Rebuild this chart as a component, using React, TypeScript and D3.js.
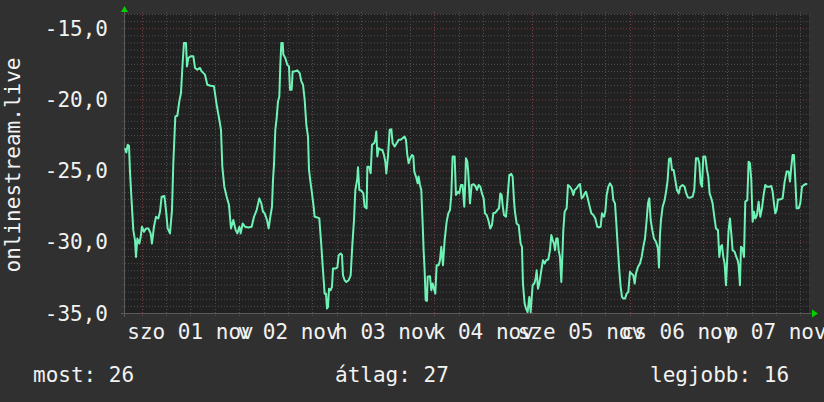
import * as d3 from 'd3';
import { useEffect, useRef } from 'react';

// hours since 2014-11-01 00:00 UTC
const hours = [
  -4.11, -3.78, -3.45, -3.12, -2.88, -2.47, -2.06, -1.65, -1.4, -1.07, -0.58, -0.25, 0.07, 0.57, 1.06, 1.63, 2.21, 2.53,
  3.02, 3.52, 4.09, 4.5, 4.91, 5.57, 5.98, 6.39, 6.96, 7.45, 7.78, 8.27, 8.76, 9.25, 9.66, 10.07, 10.4, 10.89, 11.14,
  11.47, 12.04, 12.7, 13.11, 13.68, 14.34, 14.75, 15.57, 16.14, 16.96, 17.78, 18.44, 19.09, 19.5, 19.83, 20.32, 20.9,
  21.47, 21.96, 22.53, 23.11, 23.52, 24.01, 24.34, 24.83, 25.4, 26.22, 27.04, 27.62, 28.27, 28.93,
  29.42, 29.83, 30.24, 30.81, 31.22, 31.63, 32.04, 32.29, 32.53, 32.86, 33.19, 33.52, 33.85, 34.09, 34.34, 34.67, 34.83,
  35.32, 35.81, 36.22, 36.47, 36.88, 37.12, 37.62, 38.27, 38.85, 39.26, 39.67, 40.08, 40.49, 40.9, 41.14, 41.55, 41.88,
  42.29, 42.53, 43.19, 43.68, 44.17, 44.58, 44.99, 45.32, 45.57, 45.81, 46.06, 46.47, 46.8, 47.04, 47.62, 48.11, 48.44,
  48.93, 49.26, 49.5, 49.91, 50.32, 50.9, 51.39, 51.8, 52.21, 52.54, 53.03, 53.19, 53.52, 54.01, 54.5, 54.83, 55.32,
  55.49, 55.9, 56.31, 56.63, 57.13, 57.45, 57.7, 57.95, 58.27, 58.76, 59.17, 59.58, 59.91, 60.16, 60.57, 60.98, 61.39,
  61.72, 62.21, 62.7,
  63.19, 63.68, 64.17, 64.66, 64.99, 65.32, 65.64, 66.05, 66.46, 66.79, 67.04, 67.45, 67.86, 68.1, 68.43, 68.76, 69.09,
  69.33, 69.58, 69.83, 70.15, 70.32, 70.89, 71.22, 71.55, 71.87, 72.2, 72.53, 73.02, 73.35, 73.68, 74.09, 74.5, 74.99,
  75.4, 75.81, 76.14, 76.46, 76.96, 77.28, 77.78, 78.1, 78.51, 78.92, 79.33, 79.58, 79.74, 80.07, 80.32, 80.73, 81.14,
  81.63, 82.04, 82.45, 82.86, 83.27, 83.68, 84.09, 84.42, 84.83, 85.24, 85.73, 86.14, 86.47, 86.96, 87.45, 87.86, 88.19,
  88.51, 88.76, 89.09, 89.58, 89.91, 90.4, 90.89, 91.22, 91.55, 91.79, 92.2, 92.7, 93.19, 93.51, 93.76, 94.17, 94.5,
  94.91, 95.32, 95.65, 96.14, 96.55,
  96.88, 97.13, 97.45, 97.78, 98.27, 98.68, 99.09, 99.5, 99.99, 100.4, 100.73, 101.06, 101.39, 101.63, 101.96, 102.29,
  102.54, 102.86, 103.19, 103.52, 103.68, 104.01, 104.5, 104.83, 105.32, 105.81, 106.14, 106.47, 106.96, 107.45, 107.78,
  108.19, 108.6, 108.93, 109.26, 109.59, 110.08, 110.57, 111.06, 111.55, 112.04, 112.37, 112.86, 113.19, 113.68, 114.01,
  114.34, 114.75, 115.16, 115.65, 115.98, 116.39, 116.72, 117.13, 117.45, 117.78, 118.11, 118.44, 118.85, 119.26, 119.67,
  120.08, 120.41, 120.9, 121.23, 121.55, 122.04, 122.54, 122.95, 123.36, 123.77, 124.18, 124.5, 124.83, 125.16, 125.57,
  125.98, 126.47, 126.96, 127.21, 127.45, 127.7, 128.11, 128.6, 129.01, 129.34, 129.67, 130.08, 130.41,
  130.81, 131.22, 131.63, 132.04, 132.45, 133.02, 133.51, 133.92, 134.33, 134.91, 135.48, 135.89, 136.3, 136.79, 137.12,
  137.45, 137.78, 138.11, 138.6, 139.01, 139.33, 139.66, 140.07, 140.4, 140.81, 141.22, 141.71, 142.04, 142.37, 142.7,
  143.02, 143.35, 143.68, 144.01, 144.33, 144.66, 144.99, 145.32, 145.81, 146.22, 146.55, 146.79, 147.12, 147.37, 147.78,
  148.11, 148.43, 148.93, 149.25, 149.58, 149.91, 150.24, 150.56, 150.89, 151.3, 151.71, 152.12, 152.53, 152.94, 153.35,
  153.76, 154.34, 154.83, 155.16, 155.48, 155.81, 156.14, 156.47, 157.04, 157.61, 158.11, 158.6, 159.09, 159.42, 159.75,
  160.07, 160.4, 160.73, 161.06, 161.55, 161.96, 162.37, 162.86, 163.35, 163.68,
];

const values = [
  -23.43, -23.73, -23.19, -23.26, -25.07, -27.18, -29.18, -29.88, -31.06, -29.77, -30.12, -29.65, -28.94, -29.3, -29.06,
  -29.06, -29.41, -30.12, -28.94, -28.24, -28.36, -27.89, -26.83, -26.78, -27.77, -29.06, -29.41, -27.77, -24.48, -21.2,
  -21.15, -20.14, -19.55, -17.44, -16.03, -16.03, -17.68, -17.09, -16.97, -16.97, -17.79, -17.91, -17.79, -18.03, -18.26,
  -18.97, -19.04, -19.08, -20.38, -21.43, -22.14, -24.72, -26.13, -26.83, -27.42, -29.06, -28.47, -29.18, -29.41, -28.94,
  -29.41, -28.71, -28.94, -28.99, -28.94, -28.24, -27.77, -26.95,
  -27.3, -27.89, -28.0, -28.47, -29.06, -28.24, -27.54, -25.66, -24.6, -22.14, -21.31, -20.14, -19.79, -17.56, -16.03,
  -16.03, -16.85, -17.09, -17.56, -17.68, -19.32, -19.32, -18.03, -18.03, -17.96, -18.15, -18.73, -18.97, -20.02, -21.78,
  -22.61, -24.95, -25.89, -26.6, -27.54, -28.24, -28.29, -28.36, -30.23, -32.0, -33.64, -33.64, -34.69, -34.58, -33.29,
  -33.4, -33.17, -31.88, -31.88, -31.81, -30.94, -30.82, -30.94, -32.35, -32.7, -32.82, -32.7, -32.35, -30.23, -28.47,
  -26.36, -25.54, -24.77, -26.36, -26.41, -26.6, -27.54, -27.65, -24.72, -24.72, -25.19, -23.19, -23.08, -22.84, -22.25,
  -24.01, -23.43, -23.54, -23.54, -23.9, -24.37, -25.19, -24.01, -22.14, -22.09, -23.08, -23.31, -23.08,
  -22.84, -22.84, -22.72, -22.61, -22.84, -23.9, -24.48, -24.13, -23.9, -23.97, -25.07, -25.42, -25.89, -25.42, -26.01,
  -26.36, -28.71, -30.59, -32.0, -34.11, -34.15, -32.46, -32.42, -33.4, -32.93, -33.29, -33.64, -31.64, -31.64, -31.29,
  -30.35, -31.64, -29.88, -28.59, -28.0, -27.77, -26.71, -24.01, -24.01, -26.71, -26.48, -26.6, -26.01, -26.01, -27.54,
  -25.77, -24.13, -24.37, -25.19, -27.3, -26.01, -25.96, -26.08, -26.36, -26.01, -26.13, -26.6, -26.95, -28.0, -28.12,
  -28.47, -29.06, -28.83, -28.0, -27.96, -27.77, -27.65, -26.6, -26.71, -27.42, -28.12, -28.24, -27.18, -25.31, -25.23,
  -25.42, -27.07, -27.89, -28.71, -28.83, -30.12, -30.35, -32.93, -34.34, -34.69, -34.93, -33.87, -34.95, -33.05, -32.93,
  -32.58, -32.0, -33.29, -32.93, -32.0, -31.29, -31.53, -31.29, -31.24, -30.59, -29.53, -29.88, -30.12, -30.59, -29.77,
  -29.77, -30.59, -31.06, -32.82, -30.47, -29.18, -27.89, -27.65, -26.01, -26.13, -26.36, -26.71, -26.36, -26.24, -26.01,
  -25.94, -26.95, -26.83, -26.6, -26.48, -26.83, -27.42, -28.0, -28.12, -28.36, -28.94, -28.99, -28.94, -28.0, -28.24,
  -27.89, -26.71, -26.13, -25.89, -26.13, -27.07, -27.3, -28.71, -30.59, -32.0, -33.17, -33.87, -33.99, -33.99, -33.64,
  -33.52, -32.11, -32.23, -32.35, -32.93, -32.23, -31.76, -31.53, -31.06, -30.35, -29.77, -28.47, -27.3, -26.95, -28.47,
  -29.18, -29.77, -30.0, -30.47, -31.81, -29.53, -28.47, -27.54, -27.07, -26.36, -25.66, -24.2, -24.13, -24.95,
  -24.95, -25.66, -26.36, -26.6, -26.13, -26.01, -26.13, -26.6, -26.88, -26.9, -26.83, -26.36, -24.13, -24.13, -24.48,
  -25.89, -26.13, -24.01, -24.01, -24.95, -25.42, -26.6, -26.95, -27.3, -28.24, -29.06, -29.18, -31.06, -30.35, -30.23,
  -31.06, -31.53, -33.05, -31.06, -29.18, -28.36, -29.41, -30.59, -30.7, -31.06, -31.29, -31.64, -33.05, -30.35, -30.47,
  -31.06, -27.18, -27.07, -24.37, -24.48, -25.66, -28.59, -27.89, -28.36, -28.12, -27.18, -28.24, -27.65, -26.71, -26.01,
  -26.13, -26.13, -26.08, -26.48, -27.3, -28.0, -27.77, -27.02, -27.02, -26.95, -25.77, -25.07, -25.07, -25.77, -24.72,
  -23.9, -23.9, -25.66, -27.65, -27.65, -27.3, -26.13, -26.01, -25.94, -25.94,
];

const yTicks = [-35, -30, -25, -20, -15];
const shortDays = ['v', 'h', 'k', 'sze', 'cs', 'p', 'szo'];
const shortMonths = ['jan', 'febr', 'márc', 'ápr', 'máj', 'jún', 'júl', 'aug', 'szept', 'okt', 'nov', 'dec'];
const legendLabels = ['most', 'átlag', 'legjobb'];
const legendValues = [26, 27, 16];
const axisTitle = 'onlinestream.live';

const FONT = '"DejaVu Sans Mono", monospace';

const App = (): React.ReactElement => {
  const ref: any = useRef();
  const width = 824;
  const height = 402;
  const left = 124;
  const right = 809;
  const top = 14;
  const bottom = 313;

  useEffect(() => {
    const svg = d3.select(ref.current).attr('width', width).attr('height', height);
    svg.selectAll('*').remove();

    const base = Date.UTC(2014, 10, 1);
    const toDate = (h: number) => new Date(base + h * 3600e3);

    const x = d3
      .scaleUtc()
      .domain([toDate(-4.35), toDate(164.1)])
      .range([left, right]);
    const y = d3.scaleLinear().domain([-35, -14]).range([bottom, top]);

    const huLocale = d3.timeFormatLocale({
      dateTime: '%Y. %B %-e., %A %X',
      date: '%Y. %m. %d.',
      time: '%H:%M:%S',
      periods: ['de.', 'du.'],
      days: ['vasárnap', 'hétfő', 'kedd', 'szerda', 'csütörtök', 'péntek', 'szombat'],
      shortDays: shortDays,
      months: ['január', 'február', 'március', 'április', 'május', 'június', 'július', 'augusztus', 'szeptember', 'október', 'november', 'december'],
      shortMonths: shortMonths,
    });
    const dayFormat = huLocale.utcFormat('%a %d %b');
    const numFormat = d3.formatLocale({ decimal: ',', thousands: ' ', grouping: [3], currency: ['', ' Ft'], minus: '-' }).format('.1f');

    svg.append('rect').attr('width', width).attr('height', height).attr('fill', '#303030');
    svg
      .append('rect')
      .attr('x', left)
      .attr('y', top)
      .attr('width', right - left)
      .attr('height', bottom - top)
      .attr('fill', '#212121');

    const [t0, t1] = x.domain();
    const minorX = d3.utcHour.every(6)!.range(t0, t1);
    const majorX = d3.utcDay.range(t0, t1);
    const minorY = d3.range(-35, -13.9, 0.5);

    const grid = svg.append('g');
    grid
      .selectAll('line.hmin')
      .data(minorY)
      .enter()
      .append('line')
      .attr('x1', left - 2)
      .attr('x2', right + 2)
      .attr('y1', (d) => y(d) + 0.5)
      .attr('y2', (d) => y(d) + 0.5)
      .attr('stroke', (d) => (d % 5 === 0 ? '#7a3e3e' : '#4e4e4e'))
      .attr('stroke-dasharray', '1,2');
    grid
      .selectAll('line.vmin')
      .data(minorX)
      .enter()
      .append('line')
      .attr('x1', (d) => Math.round(x(d)) + 0.5)
      .attr('x2', (d) => Math.round(x(d)) + 0.5)
      .attr('y1', top - 2)
      .attr('y2', bottom + 3)
      .attr('stroke', (d) => (majorX.some((m) => +m === +d) ? '#7a3e3e' : '#4e4e4e'))
      .attr('stroke-dasharray', '1,2');

    // axes
    svg
      .append('line')
      .attr('x1', left - 3)
      .attr('x2', right + 4)
      .attr('y1', bottom + 0.5)
      .attr('y2', bottom + 0.5)
      .attr('stroke', '#5a5a5a');
    svg
      .append('line')
      .attr('x1', left + 0.5)
      .attr('x2', left + 0.5)
      .attr('y1', top - 4)
      .attr('y2', bottom + 4)
      .attr('stroke', '#5a5a5a');
    svg
      .append('path')
      .attr('d', `M${left - 3},${top - 2}L${left + 0.5},${top - 8}L${left + 4},${top - 2}Z`)
      .attr('fill', '#00d000');
    svg
      .append('path')
      .attr('d', `M${right + 3},${bottom - 3.5}L${right + 9},${bottom + 0.5}L${right + 3},${bottom + 4.5}Z`)
      .attr('fill', '#00d000');

    const line = d3
      .line<number>()
      .x((_, i) => x(toDate(hours[i])))
      .y((d) => y(d));
    svg
      .append('path')
      .datum(values)
      .attr('d', line)
      .attr('fill', 'none')
      .attr('stroke', '#6ff2b6')
      .attr('stroke-width', 2)
      .attr('stroke-linejoin', 'round');

    // y tick labels
    svg
      .append('g')
      .selectAll('text')
      .data(yTicks)
      .enter()
      .append('text')
      .attr('x', 108)
      .attr('y', (d) => y(d) + 7.5)
      .attr('text-anchor', 'end')
      .attr('font-family', FONT)
      .attr('font-size', 21)
      .attr('fill', '#f2f2f2')
      .text((d) => numFormat(d));

    // x labels at noon
    const noons = majorX.map((d) => d3.utcHour.offset(d, 12));
    svg
      .append('g')
      .selectAll('text')
      .data(noons)
      .enter()
      .append('text')
      .attr('x', (d) => x(d))
      .attr('y', 339)
      .attr('text-anchor', 'middle')
      .attr('font-family', FONT)
      .attr('font-size', 21)
      .attr('fill', '#f2f2f2')
      .text((d) => dayFormat(d));

    svg
      .append('text')
      .attr('transform', 'translate(20,165) rotate(-90)')
      .attr('text-anchor', 'middle')
      .attr('font-family', FONT)
      .attr('font-size', 21)
      .attr('fill', '#f2f2f2')
      .text(axisTitle);

    const legendX = [33, 335, 650];
    svg
      .append('g')
      .selectAll('text')
      .data(legendLabels)
      .enter()
      .append('text')
      .attr('x', (_, i) => legendX[i])
      .attr('y', 382)
      .attr('font-family', FONT)
      .attr('font-size', 21)
      .attr('fill', '#f2f2f2')
      .text((d, i) => `${d}: ${legendValues[i]}`);
  }, []);

  return (
    <div style={{ position: 'absolute', left: 0, top: 0 }}>
      <svg ref={ref} style={{ display: 'block' }} />
    </div>
  );
};

export default App;
